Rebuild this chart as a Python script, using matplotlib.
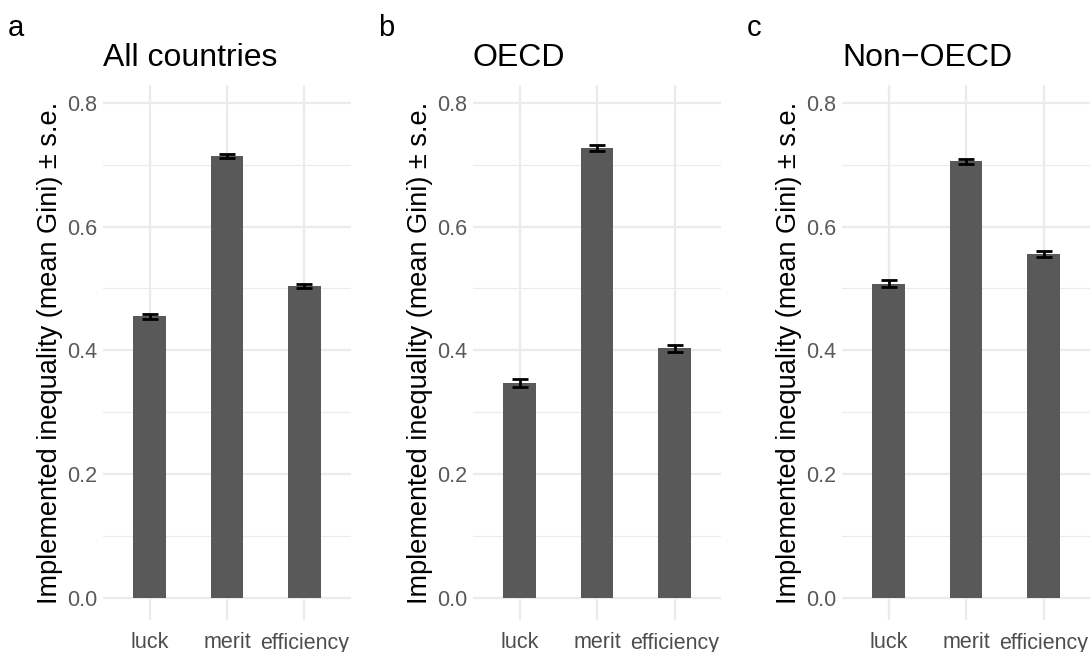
import numpy as np
import matplotlib
matplotlib.use("Agg")
import matplotlib.pyplot as plt

plt.rcParams['font.family'] = ['Liberation Sans', 'DejaVu Sans']

# donnees
categories = ["luck", "merit", "efficiency"]
panneaux = ["a", "b", "c"]
titres = ["All countries", "OECD", "Non\u2212OECD"]
moyennes = [
    [0.455, 0.714, 0.504],
    [0.347, 0.727, 0.403],
    [0.508, 0.706, 0.556],
]
erreurs = [
    [0.004, 0.003, 0.004],
    [0.006, 0.005, 0.006],
    [0.006, 0.004, 0.005],
]
yticks = [0.0, 0.2, 0.4, 0.6, 0.8]
yticks_min = [0.1, 0.3, 0.5, 0.7]

fig = plt.figure(figsize=(10.91, 6.52), dpi=100)

lefts = [103, 473, 842]
for k in range(3):
    ax = fig.add_axes([lefts[k] / 1091, 1 - 620 / 652, 248 / 1091, 535 / 652])
    x = np.arange(1, 4)
    ax.bar(x, moyennes[k], width=0.42, color="#595959", zorder=2)
    ax.errorbar(x, moyennes[k], yerr=erreurs[k], fmt="none", ecolor="black",
                elinewidth=2, capsize=5.5, capthick=2, zorder=3)
    ax.set_xlim(0.4, 3.6)
    ax.set_ylim(-0.036, 0.829)
    ax.set_yticks(yticks)
    ax.set_yticks(yticks_min, minor=True)
    ax.set_yticklabels(["0.0", "0.2", "0.4", "0.6", "0.8"])
    ax.set_xticks(x)
    ax.set_xticklabels(categories)
    ax.grid(True, which="major", color="#EBEBEB", linewidth=1.6, zorder=0)
    ax.grid(True, which="minor", axis="y", color="#EBEBEB", linewidth=0.8, zorder=0)
    ax.set_axisbelow(True)
    for s in ax.spines.values():
        s.set_visible(False)
    ax.tick_params(axis="both", which="both", length=0, labelsize=15.5, labelcolor="#595959")
    ax.tick_params(axis="x", pad=9, labelcolor="#4D4D4D")
    ax.tick_params(axis="y", pad=4)
    ax.set_ylabel("Implemented inequality (mean Gini) \u00b1 s.e.", fontsize=19.5, labelpad=3)
    ax.set_title(titres[k], fontsize=23, loc="left", pad=14)
    fig.text((lefts[k] - 95) / 1091, 1 - 28 / 652, panneaux[k], fontsize=21,
             ha="left", va="center")

fig.savefig("out.png", dpi=100)
